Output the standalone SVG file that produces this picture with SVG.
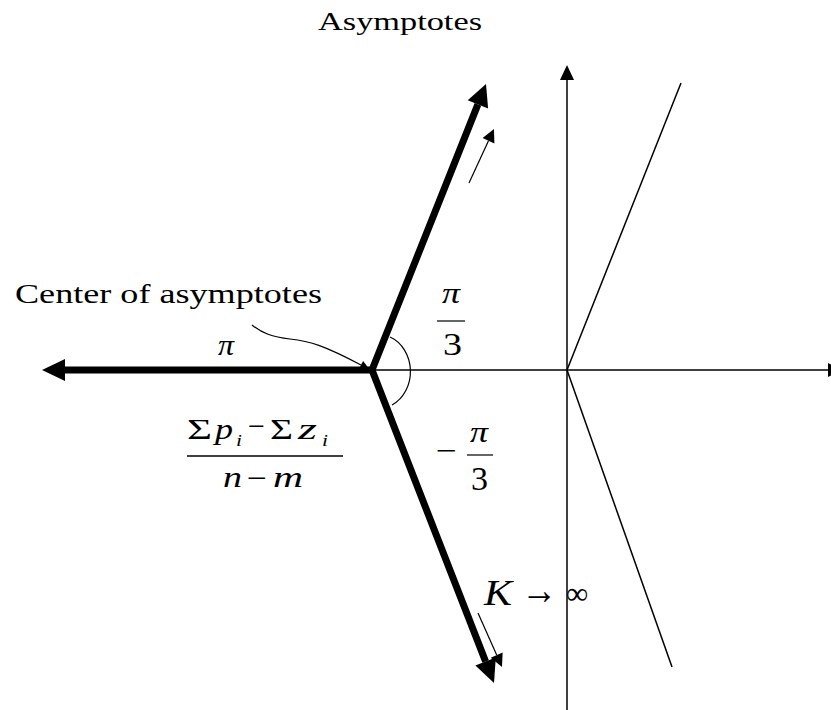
<svg xmlns="http://www.w3.org/2000/svg" width="831" height="710" viewBox="0 0 831 710" font-family="'Liberation Serif', 'DejaVu Serif', 'Times New Roman', serif">
<style>
text{font-family:'Liberation Serif','DejaVu Serif','Times New Roman',serif;fill:#000}
.it{font-style:italic}
.thick{stroke:#000;stroke-width:7;fill:none}
.thin{stroke:#000;stroke-width:1.5;fill:none}
.hair{stroke:#000;stroke-width:1.2;fill:none}
</style>
<defs>
<marker id="ah-big" markerUnits="userSpaceOnUse" orient="auto" overflow="visible" refX="0" refY="0" markerWidth="30" markerHeight="30"><path d="M23,0 L0,-11 L0,11 Z" fill="#000"/></marker>
<marker id="ah-ax" markerUnits="userSpaceOnUse" orient="auto" overflow="visible" refX="0" refY="0" markerWidth="20" markerHeight="20"><path d="M15,0 L0,-7 L0,7 Z" fill="#000"/></marker>
<marker id="ah-sm" markerUnits="userSpaceOnUse" orient="auto" overflow="visible" refX="0" refY="0" markerWidth="20" markerHeight="20"><path d="M13,0 L0,-6.5 L0,6.5 Z" fill="#000"/></marker>
<marker id="ah-tiny" markerUnits="userSpaceOnUse" orient="auto" overflow="visible" refX="0" refY="0" markerWidth="20" markerHeight="20"><path d="M10,0 L0,-4.5 L0,4.5 Z" fill="#000"/></marker>
</defs>

<g id="axes">
<line class="thin" x1="567" y1="710" x2="567" y2="80" marker-end="url(#ah-ax)"/>
<line class="thin" x1="372" y1="370" x2="828" y2="370" marker-end="url(#ah-ax)"/>
</g>

<g id="root-locus">
<line class="thin" x1="567" y1="370" x2="681" y2="83"/>
<line class="thin" x1="567" y1="370" x2="672" y2="667"/>
</g>

<g id="connectors">
<line class="thick" x1="375" y1="370" x2="65" y2="370" marker-end="url(#ah-big)"/>
<path class="thick" d="M477.9,104.4 L372,370 L485.6,661.6" stroke-linejoin="miter"/>
<polygon points="486,84 467.7,100.3 488.1,108.5" fill="#000"/>
<polygon points="494,683 475.4,665.6 495.8,657.6" fill="#000"/>
<line class="hair" x1="469" y1="183" x2="488.5" y2="140.8" marker-end="url(#ah-sm)"/>
<line class="hair" x1="478" y1="613" x2="496.7" y2="655.1" marker-end="url(#ah-sm)"/>
<path class="hair" d="M252,325 C262,333 272,337 290,339 C310,341 325,346 361,365" marker-end="url(#ah-tiny)"/>
<path class="hair" d="M390,337 A32 37 0 0 1 392,405"/>
</g>

<g id="title"><text x="318" y="30" font-size="26" textLength="164" lengthAdjust="spacingAndGlyphs">Asymptotes</text></g>

<g id="center-label"><text x="15" y="303" font-size="27" textLength="307" lengthAdjust="spacingAndGlyphs">Center of asymptotes</text></g>

<g id="pi-label"><text class="it" x="218" y="355" font-size="30" textLength="16" lengthAdjust="spacingAndGlyphs">π</text></g>

<g id="pi3-upper">
<text class="it" x="442" y="303" font-size="30" textLength="18" lengthAdjust="spacingAndGlyphs">π</text>
<line class="hair" x1="437" y1="321" x2="465" y2="321"/>
<text x="443" y="355" font-size="32" textLength="19" lengthAdjust="spacingAndGlyphs">3</text>
</g>

<g id="pi3-lower">
<text x="436" y="460" font-size="28" textLength="21" lengthAdjust="spacingAndGlyphs">−</text>
<text class="it" x="470" y="442" font-size="30" textLength="18" lengthAdjust="spacingAndGlyphs">π</text>
<line class="hair" x1="467" y1="455" x2="493" y2="455"/>
<text x="471" y="490" font-size="33" textLength="17" lengthAdjust="spacingAndGlyphs">3</text>
</g>

<g id="center-formula">
<text x="187" y="439" font-size="30" textLength="25" lengthAdjust="spacingAndGlyphs">Σ</text>
<text class="it" x="215" y="439" font-size="30" textLength="18" lengthAdjust="spacingAndGlyphs">p</text>
<text class="it" x="236" y="446" font-size="17" textLength="6" lengthAdjust="spacingAndGlyphs">i</text>
<text x="248" y="435.5" font-size="30" textLength="17" lengthAdjust="spacingAndGlyphs">−</text>
<text x="270" y="439" font-size="30" textLength="23" lengthAdjust="spacingAndGlyphs">Σ</text>
<text class="it" x="298" y="439" font-size="30" textLength="19" lengthAdjust="spacingAndGlyphs">z</text>
<text class="it" x="322" y="446" font-size="17" textLength="6" lengthAdjust="spacingAndGlyphs">i</text>
<line class="thin" x1="187" y1="456" x2="343" y2="456"/>
<text class="it" x="223" y="487" font-size="30" textLength="19" lengthAdjust="spacingAndGlyphs">n</text>
<text x="247" y="487.5" font-size="30" textLength="20" lengthAdjust="spacingAndGlyphs">−</text>
<text class="it" x="273" y="487" font-size="30" textLength="30" lengthAdjust="spacingAndGlyphs">m</text>
</g>

<g id="k-label">
<text class="it" x="484" y="605" font-size="36" textLength="28" lengthAdjust="spacingAndGlyphs">K</text>
<text x="521" y="604" font-size="42" textLength="36" lengthAdjust="spacingAndGlyphs">→</text>
<text x="566" y="604" font-size="32" textLength="22" lengthAdjust="spacingAndGlyphs">∞</text>
</g>
</svg>
